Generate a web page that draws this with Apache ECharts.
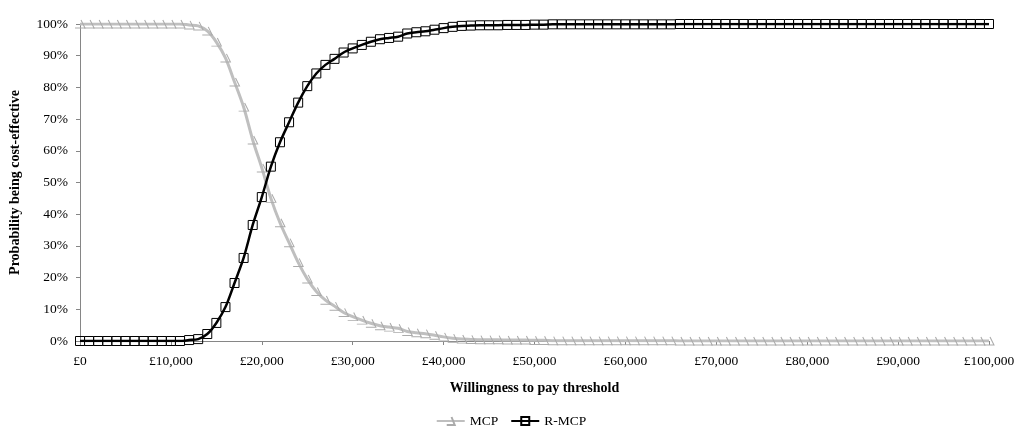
<!DOCTYPE html>
<html>
<head>
<meta charset="utf-8">
<script src="https://cdn.jsdelivr.net/npm/echarts@6/dist/echarts.min.js"></script>
<style>
  html, body { margin: 0; padding: 0; background: #fff; }
  #chart { width: 1022px; height: 429px; }
</style>
</head>
<body>
<div id="chart"></div>
<script>
// willingness to pay, £0 .. £100,000 in £1,000 steps (x positions of the points)
const wtp = Array.from({ length: 101 }, (_, i) => i * 1000);

// probability cost-effective (%)
const mcp = [
  100, 100, 100, 100, 100, 100, 100, 100, 100, 100, 100, 100,
  99.7, 99.4, 97.8, 94.3, 89.3, 81.7, 73.8, 63.4, 54.6, 45.0,
  37.3, 31.0, 24.8, 19.6, 15.6, 12.9, 11.0, 9.0, 7.7, 6.6,
  5.6, 4.8, 4.4, 4.0, 3.0, 2.6, 2.3, 1.8, 1.3, 0.9,
  0.6, 0.5, 0.4, 0.4, 0.4, 0.3, 0.3, 0.3, 0.2, 0.2,
  0.1, 0.1, 0.1, 0.1, 0.1, 0.1, 0.1, 0.1, 0.1, 0.1, 0.1, 0.1, 0.1, 0.1,
  0, 0, 0, 0, 0, 0, 0, 0, 0, 0, 0, 0, 0, 0, 0, 0, 0, 0,
  0, 0, 0, 0, 0, 0, 0, 0, 0, 0, 0, 0, 0, 0, 0, 0, 0,
];
const rmcp = [
  0, 0, 0, 0, 0, 0, 0, 0, 0, 0, 0, 0,
  0.3, 0.6, 2.2, 5.7, 10.7, 18.3, 26.2, 36.6, 45.4, 55.0,
  62.7, 69.0, 75.2, 80.4, 84.4, 87.1, 89.0, 91.0, 92.3, 93.4,
  94.4, 95.2, 95.6, 96.0, 97.0, 97.4, 97.7, 98.2, 98.7, 99.1,
  99.4, 99.5, 99.6, 99.6, 99.6, 99.7, 99.7, 99.7, 99.8, 99.8,
  99.9, 99.9, 99.9, 99.9, 99.9, 99.9, 99.9, 99.9, 99.9, 99.9, 99.9, 99.9, 99.9, 99.9,
  100, 100, 100, 100, 100, 100, 100, 100, 100, 100, 100, 100, 100, 100, 100, 100, 100, 100,
  100, 100, 100, 100, 100, 100, 100, 100, 100, 100, 100, 100, 100, 100, 100, 100, 100,
];

const seriesNames = ['MCP', 'R-MCP'];

const font = 'Liberation Serif, Times New Roman, serif';
const axisGrey = '#868686';

const myChart = echarts.init(document.getElementById('chart'), null, { renderer: 'canvas' });

const option = {
  animation: false,
  textStyle: { fontFamily: font },
  grid: { left: 79, right: 33, top: 24, bottom: 88, containLabel: false },
  legend: {
    bottom: -4,
    left: 'center',
    itemWidth: 28,
    itemHeight: 10,
    itemGap: 12,
    data: seriesNames,
    textStyle: { fontFamily: font, fontSize: 13.5, color: '#000' },
  },
  xAxis: {
    type: 'value',
    min: 0,
    max: 100000,
    interval: 10000,
    name: 'Willingness to pay threshold',
    nameLocation: 'middle',
    nameGap: 40,
    nameTextStyle: { fontFamily: font, fontSize: 14, fontWeight: 'bold', color: '#000' },
    axisLine: { lineStyle: { color: axisGrey, width: 1 } },
    axisTick: { show: true, length: 4, lineStyle: { color: axisGrey } },
    axisLabel: {
      margin: 13,
      fontFamily: font,
      fontSize: 13.5,
      color: '#000',
      formatter: v => '£' + v.toLocaleString('en-GB'),
    },
    splitLine: { show: false },
  },
  yAxis: {
    type: 'value',
    min: 0,
    max: 100,
    interval: 10,
    name: 'Probability being cost-effective',
    nameLocation: 'middle',
    nameGap: 58,
    nameTextStyle: { fontFamily: font, fontSize: 14, fontWeight: 'bold', color: '#000' },
    axisLine: { show: true, lineStyle: { color: axisGrey, width: 1 } },
    axisTick: { show: true, length: 4, lineStyle: { color: axisGrey } },
    axisLabel: { margin: 12, fontFamily: font, fontSize: 13.5, color: '#000', formatter: '{value}%' },
    splitLine: { show: false },
  },
  series: [
    {
      name: seriesNames[0],
      type: 'line',
      smooth: 0.3,
      data: wtp.map((x, i) => [x, mcp[i]]),
      // excel-ish slanted tick marker: diagonal above the line, flat stroke under it
      symbol: 'path://M0,0L4,9L-6,9',
      symbolSize: [10, 9],
      symbolKeepAspect: true,
      showAllSymbol: true,
      lineStyle: { color: '#BFBFBF', width: 3 },
      itemStyle: { color: 'none', borderColor: '#ABABAB', borderWidth: 1 },
      emphasis: { disabled: true },
    },
    {
      name: seriesNames[1],
      type: 'line',
      smooth: 0.3,
      data: wtp.map((x, i) => [x, rmcp[i]]),
      symbol: 'rect',
      symbolSize: 9,
      showAllSymbol: true,
      lineStyle: { color: '#000', width: 2.5 },
      itemStyle: { color: 'none', borderColor: '#000', borderWidth: 1 },
      emphasis: { disabled: true },
    },
  ],
};

myChart.setOption(option);
</script>
</body>
</html>
